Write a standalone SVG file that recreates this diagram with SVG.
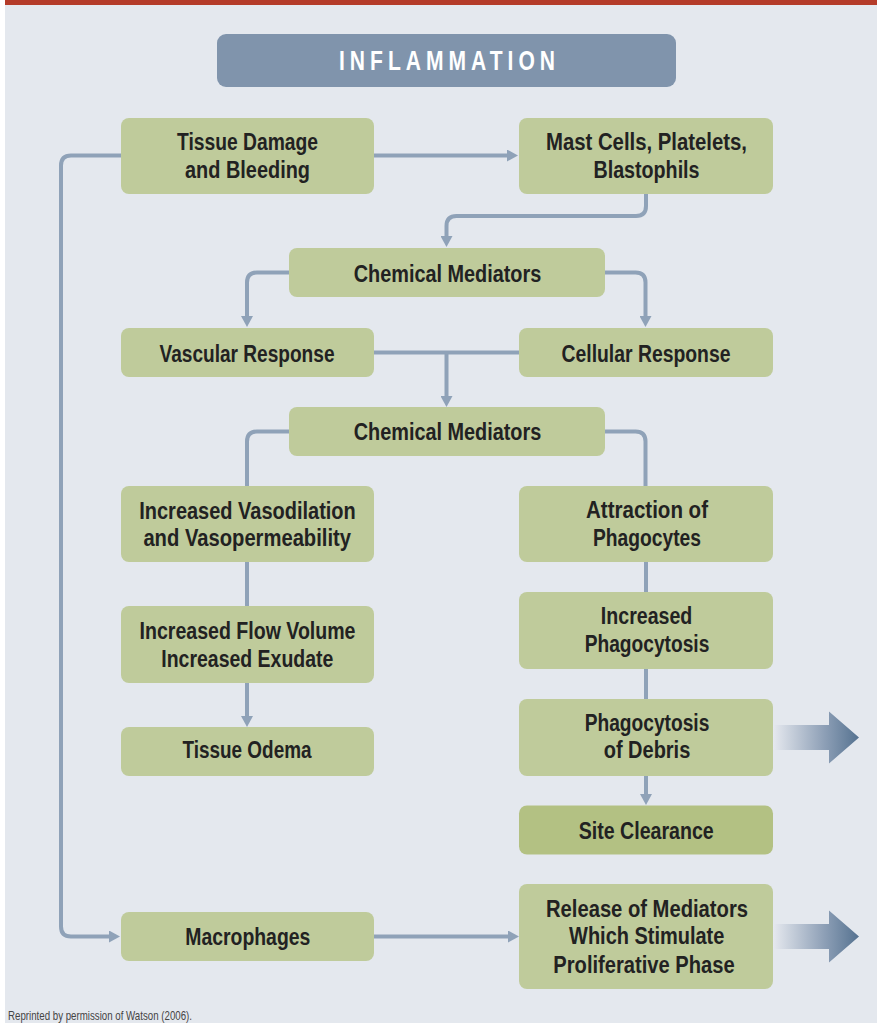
<svg xmlns="http://www.w3.org/2000/svg" width="877" height="1023" viewBox="0 0 877 1023">
<style>
.bx{fill:#bfcb9b;}
.bx2{fill:#b3c183;}
.t{font-family:'Liberation Sans',Arial,sans-serif;font-weight:bold;font-size:23px;fill:#222;text-anchor:middle;}
.c{fill:none;stroke:#8fa2b8;stroke-width:4;}
.ca{fill:none;stroke:#8fa2b8;stroke-width:4;marker-end:url(#ah);}
</style>
<defs>
<marker id="ah" viewBox="0 0 11 12" markerWidth="11" markerHeight="12" markerUnits="userSpaceOnUse" refX="3" refY="6" orient="auto">
<path d="M0,0 L11,6 L0,12 z" fill="#8fa2b8"/>
</marker>
<linearGradient id="bg" x1="0" y1="0" x2="1" y2="0">
<stop offset="0" stop-color="#e6e9ef"/>
<stop offset="0.6" stop-color="#8d9fb6"/>
<stop offset="1" stop-color="#557290"/>
</linearGradient>
</defs>
<rect x="0" y="0" width="877" height="1023" fill="#ffffff"/>
<rect x="5" y="0" width="872" height="1023" fill="#e4e8ee"/>
<rect x="5" y="0" width="872" height="5" fill="#b43b29"/>

<g id="title">
<rect x="217" y="34" width="459" height="53" rx="9" fill="#8094ac"/>
<text transform="translate(447,70) scale(0.78,1)" x="0" y="0" font-family="'Liberation Sans',Arial,sans-serif" font-weight="bold" font-size="27" fill="#ffffff" text-anchor="middle" textLength="277" lengthAdjust="spacing">INFLAMMATION</text>
</g>

<g id="connectors">
<path class="ca" d="M374,155.5 H510"/>
<path class="ca" d="M646,194 V206 Q646,216 636,216 H456.5 Q446.5,216 446.5,226 V239"/>
<path class="ca" d="M289,272.5 H257 Q247,272.5 247,282.5 V319"/>
<path class="ca" d="M605,272.5 H635.5 Q645.5,272.5 645.5,282.5 V319"/>
<path class="c" d="M374,352.5 H519"/>
<path class="ca" d="M446.5,352.5 V399"/>
<path class="c" d="M289,431.5 H257 Q247,431.5 247,441.5 V486"/>
<path class="c" d="M605,431.5 H635.5 Q645.5,431.5 645.5,441.5 V486"/>
<path class="c" d="M247,562 V606"/>
<path class="ca" d="M247,683 V719"/>
<path class="c" d="M646,562 V592"/>
<path class="c" d="M646,669 V699"/>
<path class="ca" d="M646,776 V797"/>
<path class="ca" d="M121,155.5 H71 Q61,155.5 61,165.5 V926.5 Q61,936.5 71,936.5 H112"/>
<path class="ca" d="M374,936.5 H511"/>
<polygon points="773,725 829,725 829,711.5 859,737.5 829,763.5 829,750 773,750" fill="url(#bg)"/>
<polygon points="773,924 829,924 829,910.5 859,936.5 829,962.5 829,949 773,949" fill="url(#bg)"/>
</g>

<g id="tissue-damage">
<rect class="bx" x="121" y="118" width="253" height="76" rx="8"/>
<text class="t" x="247.5" y="150" textLength="141" lengthAdjust="spacingAndGlyphs">Tissue Damage</text>
<text class="t" x="247.5" y="177.5" textLength="125" lengthAdjust="spacingAndGlyphs">and Bleeding</text>
</g>
<g id="mast-cells">
<rect class="bx" x="519" y="118" width="254" height="76" rx="8"/>
<text class="t" x="646.5" y="150" textLength="201" lengthAdjust="spacingAndGlyphs">Mast Cells, Platelets,</text>
<text class="t" x="646.5" y="178" textLength="106" lengthAdjust="spacingAndGlyphs">Blastophils</text>
</g>
<g id="chemical-mediators-1">
<rect class="bx" x="289" y="248" width="316" height="49" rx="8"/>
<text class="t" x="447.5" y="281.5" textLength="187.5" lengthAdjust="spacingAndGlyphs">Chemical Mediators</text>
</g>
<g id="vascular-response">
<rect class="bx" x="121" y="328" width="253" height="49" rx="8"/>
<text class="t" x="247" y="361.5" textLength="175" lengthAdjust="spacingAndGlyphs">Vascular Response</text>
</g>
<g id="cellular-response">
<rect class="bx" x="519" y="328" width="254" height="49" rx="8"/>
<text class="t" x="646" y="361.5" textLength="169" lengthAdjust="spacingAndGlyphs">Cellular Response</text>
</g>
<g id="chemical-mediators-2">
<rect class="bx" x="289" y="407" width="316" height="49" rx="8"/>
<text class="t" x="447.5" y="440" textLength="187.5" lengthAdjust="spacingAndGlyphs">Chemical Mediators</text>
</g>
<g id="increased-vasodilation">
<rect class="bx" x="121" y="486" width="253" height="76" rx="8"/>
<text class="t" x="247.5" y="518.5" textLength="216.5" lengthAdjust="spacingAndGlyphs">Increased Vasodilation</text>
<text class="t" x="247.2" y="546" textLength="207.6" lengthAdjust="spacingAndGlyphs">and Vasopermeability</text>
</g>
<g id="attraction-of-phagocytes">
<rect class="bx" x="519" y="486" width="254" height="76" rx="8"/>
<text class="t" x="647" y="518" textLength="122" lengthAdjust="spacingAndGlyphs">Attraction of</text>
<text class="t" x="647" y="546" textLength="108" lengthAdjust="spacingAndGlyphs">Phagocytes</text>
</g>
<g id="increased-flow">
<rect class="bx" x="121" y="606" width="253" height="77" rx="8"/>
<text class="t" x="247.5" y="638.5" textLength="216" lengthAdjust="spacingAndGlyphs">Increased Flow Volume</text>
<text class="t" x="247.3" y="666.5" textLength="172" lengthAdjust="spacingAndGlyphs">Increased Exudate</text>
</g>
<g id="increased-phagocytosis">
<rect class="bx" x="519" y="592" width="254" height="77" rx="8"/>
<text class="t" x="646.6" y="624.3" textLength="91.5" lengthAdjust="spacingAndGlyphs">Increased</text>
<text class="t" x="647" y="652.3" textLength="124.6" lengthAdjust="spacingAndGlyphs">Phagocytosis</text>
</g>
<g id="tissue-odema">
<rect class="bx" x="121" y="727" width="253" height="49" rx="8"/>
<text class="t" x="247" y="758.3" textLength="129" lengthAdjust="spacingAndGlyphs">Tissue Odema</text>
</g>
<g id="phagocytosis-of-debris">
<rect class="bx" x="519" y="699" width="254" height="77" rx="8"/>
<text class="t" x="647" y="731" textLength="124.6" lengthAdjust="spacingAndGlyphs">Phagocytosis</text>
<text class="t" x="647" y="758.3" textLength="86.6" lengthAdjust="spacingAndGlyphs">of Debris</text>
</g>
<g id="site-clearance">
<rect class="bx2" x="519" y="805.5" width="254" height="49" rx="8"/>
<text class="t" x="646.2" y="839.3" textLength="135" lengthAdjust="spacingAndGlyphs">Site Clearance</text>
</g>
<g id="macrophages">
<rect class="bx" x="121" y="912" width="253" height="49" rx="8"/>
<text class="t" x="247.8" y="945" textLength="125" lengthAdjust="spacingAndGlyphs">Macrophages</text>
</g>
<g id="release-of-mediators">
<rect class="bx" x="519" y="884" width="254" height="105" rx="8"/>
<text class="t" x="647" y="916.7" textLength="202" lengthAdjust="spacingAndGlyphs">Release of Mediators</text>
<text class="t" x="646.7" y="944.3" textLength="155.3" lengthAdjust="spacingAndGlyphs">Which Stimulate</text>
<text class="t" x="644" y="972.7" textLength="181.3" lengthAdjust="spacingAndGlyphs">Proliferative Phase</text>
</g>

<text x="8" y="1020" font-family="'Liberation Sans',Arial,sans-serif" font-size="13" fill="#444" textLength="184" lengthAdjust="spacingAndGlyphs">Reprinted by permission of Watson (2006).</text>
</svg>
